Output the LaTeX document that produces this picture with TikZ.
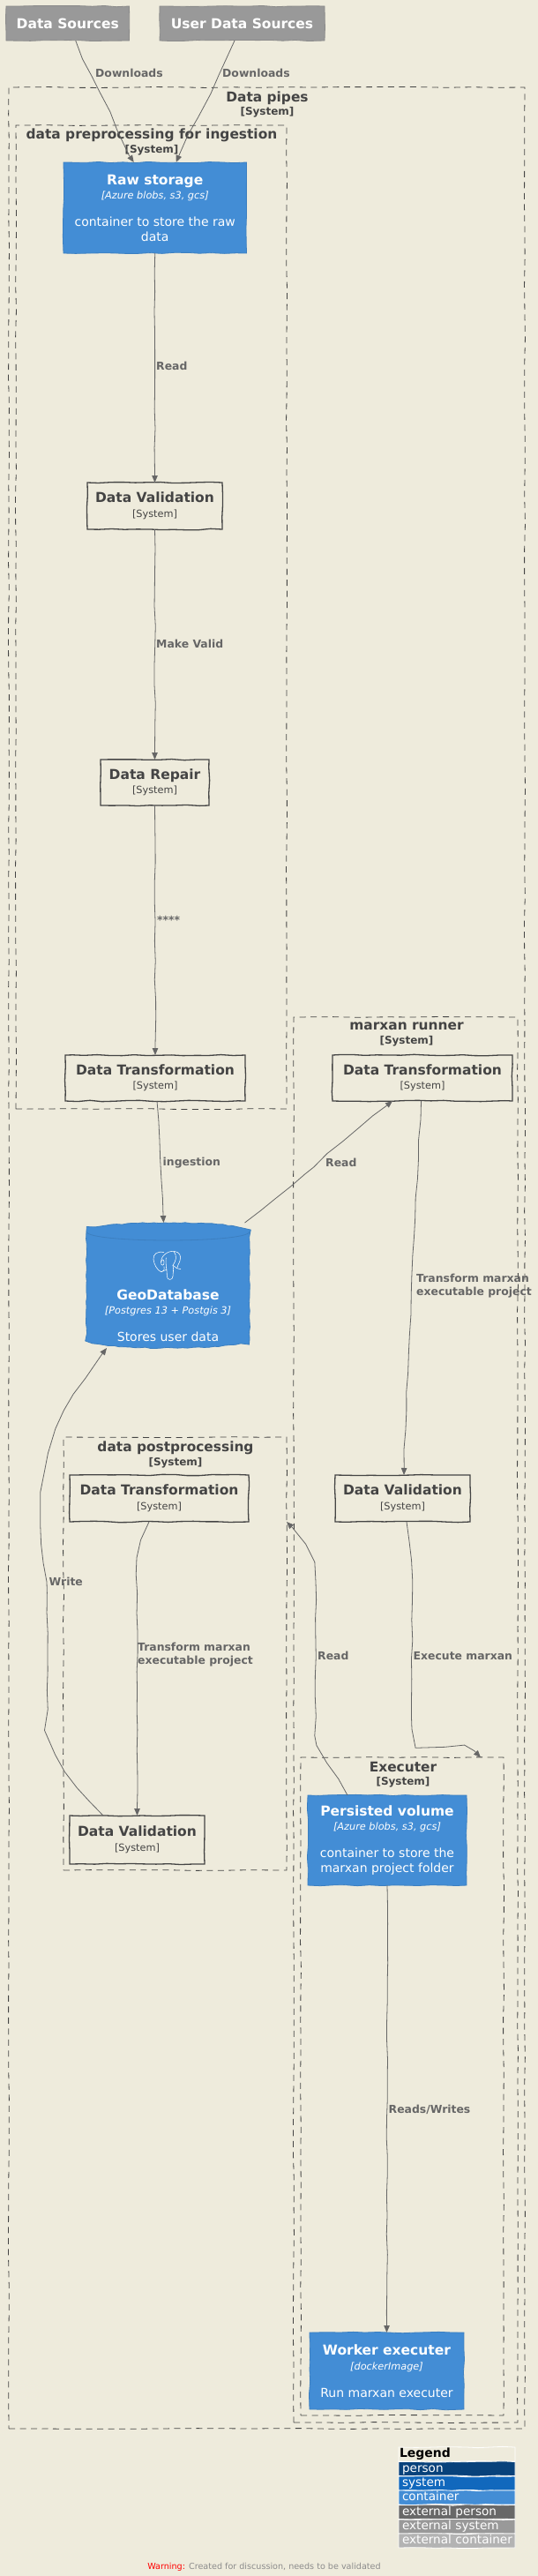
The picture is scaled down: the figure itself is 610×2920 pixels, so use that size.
\documentclass[tikz,border=0pt]{standalone}
\usepackage{fontspec}
\setmainfont{DejaVu Sans}
\usetikzlibrary{arrows.meta,decorations.pathmorphing}

\definecolor{paper}{HTML}{EEEBDC}
\definecolor{ink}{HTML}{444444}
\definecolor{wire}{HTML}{666666}
\definecolor{contfill}{HTML}{438DD5}
\definecolor{contline}{HTML}{3C7FC0}
\definecolor{extfill}{HTML}{999999}
\definecolor{extline}{HTML}{8A8A8A}

\newcommand{\boxname}[1]{{\fontsize{15.5}{16.5}\selectfont\bfseries #1}}
\newcommand{\boxtech}[1]{{\fontsize{11.3}{16.5}\selectfont\itshape #1}}
\newcommand{\boxsys}[1]{{\fontsize{11.3}{16.5}\selectfont #1}}
\newcommand{\bndsys}[1]{{\fontsize{12}{15}\selectfont\bfseries #1}}

\tikzset{
	rough/.style={decorate,decoration={random steps,segment length=14pt,amplitude=.7pt}},
	sysbox/.style={rough,draw=ink,line width=1.3pt,text=ink,align=center,inner sep=0pt,outer sep=0pt,
		font=\fontsize{14}{16.5}\selectfont},
	contbox/.style={sysbox,draw=contline,line width=.8pt,fill=contfill,text=white},
	extbox/.style={sysbox,draw=extline,line width=.8pt,fill=extfill,text=white},
	boundary/.style={decorate,decoration={random steps,segment length=30pt,amplitude=.5pt},
		draw=ink,line width=.8pt,dash pattern=on 7pt off 5.5pt,inner sep=0pt,outer sep=0pt},
	bndname/.style={text=ink,align=center,inner sep=0pt,font=\fontsize{15.4}{17}\selectfont\bfseries},
	rel/.style={draw=wire,line width=.8pt,-{Triangle[length=8pt,width=6.5pt]},
		decorate,decoration={random steps,segment length=22pt,amplitude=.8pt,post=lineto,post length=10pt}},
	rellbl/.style={text=wire,anchor=west,align=left,inner sep=0pt,font=\fontsize{12.4}{15}\selectfont\bfseries},
	legrow/.style={rough,draw=white,line width=.8pt,fill=paper,text=white,align=left,inner sep=0pt,outer sep=0pt,
		minimum width=132pt,minimum height=16pt,text width=124pt,text height=10.5pt,text depth=3pt,
		font=\fontsize{13.6}{16}\selectfont},
}

\begin{document}
\begin{tikzpicture}[x=1pt,y=-1pt]
	\pgfmathsetseed{11}
	\useasboundingbox[fill=paper] (0,0) rectangle (610,2920);

	%Boundaries
	\node (pipes) [boundary,minimum width=585pt,minimum height=2654pt] at (302.5,1426) {};
	\node (prep) [boundary,minimum width=307pt,minimum height=1115pt] at (171.5,699.5) {};
	\node (post) [boundary,minimum width=253pt,minimum height=491pt] at (198.5,1874.5) {};
	\node (runner) [boundary,minimum width=254pt,minimum height=1593pt] at (460,1949.5) {};
	\node (exec) [boundary,minimum width=230pt,minimum height=746pt] at (456,2365) {};
	\node (pipesname) [bndname] at (303,118.5) {Data pipes\\[-1.5pt]\bndsys{[System]}};
	\node (prepname) [bndname] at (172,161) {data preprocessing for ingestion\\[-1.5pt]\bndsys{[System]}};
	\node (postname) [bndname] at (199,1649) {data postprocessing\\[-1.5pt]\bndsys{[System]}};
	\node (runnername) [bndname] at (461,1172.5) {marxan runner\\[-1.5pt]\bndsys{[System]}};
	\node (execname) [bndname] at (457,2011.5) {Executer\\[-1.5pt]\bndsys{[System]}};

	%External sources
	\node (datasrc) [extbox,minimum width=139.5pt,minimum height=39pt] at (76.75,26.5) {\boxname{Data Sources}};
	\node (usersrc) [extbox,minimum width=187pt,minimum height=39pt] at (274.5,26.5) {\boxname{User Data Sources}};

	%Ingestion chain
	\node (rawstore) [contbox,minimum width=207.5pt,minimum height=103pt] at (175.75,235.5)
		{\boxname{Raw storage}\\\boxtech{[Azure blobs, s3, gcs]}\\[14.5pt]container to store the raw\\data};
	\node (valid) [sysbox,minimum width=153pt,minimum height=53pt] at (175.5,573.5)
		{\boxname{Data Validation}\\\boxsys{[System]}};
	\node (repair) [sysbox,minimum width=123pt,minimum height=52pt] at (175.5,887)
		{\boxname{Data Repair}\\\boxsys{[System]}};
	\node (transform) [sysbox,minimum width=204pt,minimum height=52pt] at (176,1222)
		{\boxname{Data Transformation}\\\boxsys{[System]}};

	%Database
	\node (geodb) [minimum width=185pt,minimum height=142pt,inner sep=0pt,outer sep=0pt] at (190.5,1457) {};
	\draw[draw=contline,fill=contfill,line width=.8pt,decorate,decoration={random steps,segment length=6pt,amplitude=.6pt}]
		(98,1396) .. controls (98,1382.7) and (283,1382.7) .. (283,1396)
		-- (283,1518) .. controls (283,1531.3) and (98,1531.3) .. (98,1518) -- cycle;
	\draw[draw=contline,line width=.8pt] (98,1396) .. controls (98,1409.3) and (283,1409.3) .. (283,1396);
	\node (geotext) [align=center,text=white,inner sep=0pt,font=\fontsize{14}{16.5}\selectfont] at (190.5,1491)
		{\boxname{GeoDatabase}\\\boxtech{[Postgres 13 + Postgis 3]}\\[14.5pt]Stores user data};
	%Elephant
	\begin{scope}[shift={(160,1405)},x=.3333pt,y=-.3333pt,draw=white,line width=.55pt]
		\draw (78,44) .. controls (55,38) and (40,50) .. (42,68) .. controls (44,85) and (55,105) .. (68,110) .. controls (75,112) and (80,105) .. (78,92);
		\draw (68,78) .. controls (66,55) and (92,38) .. (112,40) .. controls (130,42) and (138,55) .. (132,72) .. controls (128,85) and (122,92) .. (122,98) -- (135,101);
		\draw (85,62) .. controls (82,85) and (88,100) .. (88,125) .. controls (88,140) and (108,140) .. (108,125) .. controls (108,112) and (112,105) .. (108,88);
		\draw (112,42) .. controls (122,55) and (120,72) .. (108,88) -- (122,98);
		\draw (68,78) .. controls (66,90) and (80,92) .. (78,76) .. controls (77,66) and (70,66) .. (68,78);
		\draw (68,110) -- (88,102);
	\end{scope}

	%Post processing
	\node (posttrans) [sysbox,minimum width=203pt,minimum height=53pt] at (180.5,1698.5)
		{\boxname{Data Transformation}\\\boxsys{[System]}};
	\node (postvalid) [sysbox,minimum width=153pt,minimum height=55pt] at (155.5,2085.5)
		{\boxname{Data Validation}\\\boxsys{[System]}};

	%Marxan runner
	\node (runtrans) [sysbox,minimum width=204pt,minimum height=52pt] at (479,1222)
		{\boxname{Data Transformation}\\\boxsys{[System]}};
	\node (runvalid) [sysbox,minimum width=153pt,minimum height=53pt] at (456.5,1698.5)
		{\boxname{Data Validation}\\\boxsys{[System]}};
	\node (volume) [contbox,minimum width=180pt,minimum height=102pt] at (439,2086)
		{\boxname{Persisted volume}\\\boxtech{[Azure blobs, s3, gcs]}\\[14.5pt]container to store the\\marxan project folder};
	\node (worker) [contbox,minimum width=175pt,minimum height=87pt] at (438.5,2687.5)
		{\boxname{Worker executer}\\\boxtech{[dockerImage]}\\[14.5pt]Run marxan executer};

	%Connectors
	\draw[rel] ([xshift=9pt]datasrc.south) .. controls (95,70) and (115,105) .. (124.5,127) .. controls (134,150) and (146,175) .. ([xshift=-24pt]rawstore.north);
	\draw[rel] ([xshift=-8.5pt]usersrc.south) .. controls (258,65) and (245,95) .. (224,133) .. controls (215,150) and (206,170) .. ([xshift=24pt]rawstore.north);
	\draw[rel] (rawstore.south) -- (valid.north);
	\draw[rel] (valid.south) -- (repair.north);
	\draw[rel] (repair.south) -- (transform.north);
	\draw[rel] ([xshift=2pt]transform.south) -- ([xshift=-5pt]geodb.north);
	\draw[rel] ([xshift=87pt]geodb.north) .. controls (310,1362) and (340,1335) .. (356,1323) .. controls (385,1295) and (420,1268) .. ([xshift=-34pt]runtrans.south);
	\draw[rel] ([xshift=-1.5pt]runtrans.south) .. controls (470,1400) and (460,1580) .. ([xshift=1.5pt]runvalid.north);
	\draw[rel] ([xshift=4.5pt]runvalid.south) .. controls (466,1760) and (467,1780) .. (467,1793) -- (467,1960) .. controls (470,1975) and (490,1976) .. (505,1977) .. controls (525,1978) and (537,1984) .. ([xshift=89pt]exec.north);
	\draw[rel] ([xshift=-11.5pt]posttrans.south) .. controls (160,1745) and (155,1760) .. (155.5,1785) -- (155.5,2058);
	\draw[rel] ([xshift=-38.5pt]postvalid.north) .. controls (95,2035) and (60,2000) .. (54.5,1960) -- (53,1793) .. controls (48,1760) and (46,1740) .. (46,1713) .. controls (46,1680) and (55,1645) .. (64,1620) .. controls (75,1590) and (100,1558) .. ([xshift=-69.5pt]geodb.south);
	\draw[rel] ([xshift=-45pt]volume.north) .. controls (380,2010) and (360,1985) .. (358,1967) -- (358,1793) .. controls (356,1765) and (340,1745) .. (posttrans.south east -| post.east);
	\draw[rel] (volume.south) -- (worker.north);

	%Connector labels
	\node (lbldown) [rellbl] at (108,83) {Downloads};
	\node (lbluser) [rellbl] at (252,83) {Downloads};
	\node (lblread) [rellbl] at (177,415) {Read};
	\node (lblvalid) [rellbl] at (177,730) {Make Valid};
	\node (lblstars) [rellbl] at (178,1043) {****};
	\node (lblingest) [rellbl] at (184.5,1318) {ingestion};
	\node (lblrun) [rellbl] at (369,1318) {Read};
	\node (lbltrans) [rellbl] at (472,1458) {Transform marxan\\executable project};
	\node (lblpost) [rellbl] at (156,1876) {Transform marxan\\executable project};
	\node (lblwrite) [rellbl] at (55.5,1793) {Write};
	\node (lblvol) [rellbl] at (360,1877) {Read};
	\node (lblexec) [rellbl] at (468.5,1877) {Execute marxan};
	\node (lblrw) [rellbl] at (440.5,2391) {Reads/Writes};

	%Legend
	\node (legend) [legrow,text=black,font=\fontsize{14}{16}\selectfont\bfseries,text width=130pt] at (518,2782) {Legend};
	\node (legperson) [legrow,fill={rgb,255:red,8;green,66;blue,123}] at (518,2798.5) {person};
	\node (legsystem) [legrow,fill={rgb,255:red,17;green,104;blue,189}] at (518,2815) {system};
	\node (legcont) [legrow,fill=contfill] at (518,2831) {container};
	\node (legextp) [legrow,fill={rgb,255:red,104;green,104;blue,104}] at (518,2847.5) {external person};
	\node (legexts) [legrow,fill=extfill] at (518,2864) {external system};
	\node (legextc) [legrow,fill={rgb,255:red,179;green,179;blue,179}] at (518,2880) {\mbox{external container}};

	%Footer
	\node (footer) [inner sep=0pt,text=black!45,font=\fontsize{9.6}{12}\selectfont] at (299.5,2910)
		{\textcolor{red}{Warning:} Created for discussion, needs to be validated};
\end{tikzpicture}
\end{document}
